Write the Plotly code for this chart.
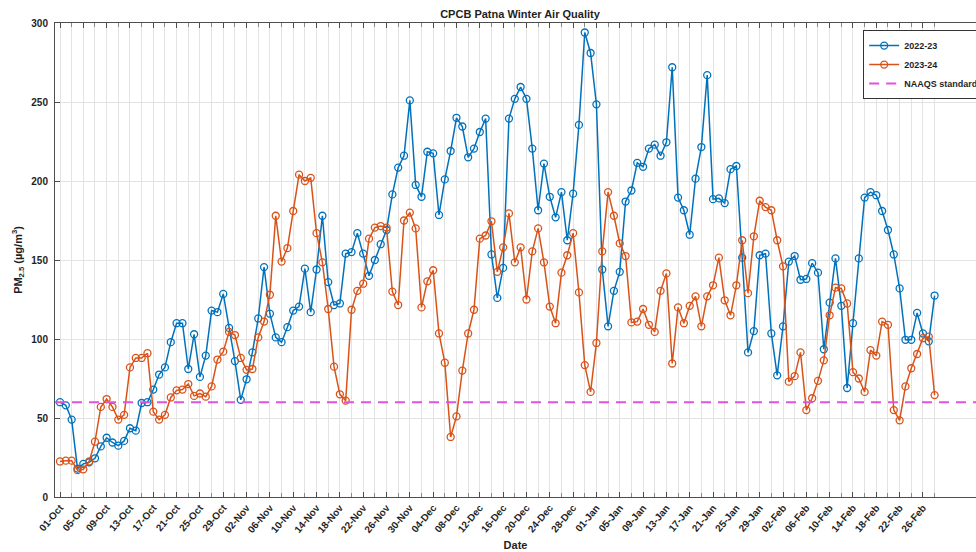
import pandas as pd
import plotly.graph_objects as go

# Daily PM2.5 (µg/m³) at CPCB Patna, 1 Oct – 28 Feb, for two winters
season_start = "2022-10-01"
n_days = 151

pm25_2022_23 = [
    60, 58, 49, 18, 21, 22, 24.5, 32, 37.5, 34.5,
    32.5, 35.5, 43.5, 42, 59.5, 60, 68, 77.5, 82, 98,
    110, 110, 81, 103, 76, 89.5, 118, 117, 128.5, 107,
    86, 61.5, 74.5, 91.5, 113, 145.5, 116, 101, 98, 107.5,
    118, 120.5, 144.5, 117, 144, 178, 136, 121.5, 122.5, 154,
    155, 167, 154, 140, 150, 160, 169, 191.5, 208.5, 216,
    251, 197.5, 190, 218.5, 217.5, 178.5, 201, 219, 240, 234.5,
    215, 220.5, 231, 239.5, 153.5, 126, 145, 239.5, 252, 259.5,
    252, 220.5, 181.5, 211, 190, 177, 193, 162.5, 192, 235.5,
    294, 281, 248.5, 144, 108, 130.5, 142.5, 187, 194, 211.5,
    209, 220.5, 223, 216, 224.5, 272, 189.5, 181.5, 166, 201.5,
    221.5, 267, 188.5, 189, 186, 207.5, 209.5, 151.5, 91.5, 105,
    153, 154, 103.5, 77, 108, 149, 152.5, 137.5, 138, 148,
    142, 93.5, 123, 151, 121, 69, 110, 151, 189.5, 193,
    191, 181, 169, 153.5, 132, 99.5, 99.5, 116.5, 103.5, 98.5,
    127.5,
]

pm25_2023_24 = [
    22.5, 23, 23, 17, 17.5, 22.5, 35, 57, 62, 57,
    49, 52, 82, 88, 88, 91, 54, 49, 52, 63,
    67.5, 68, 71.5, 64, 65.5, 63.5, 70, 87, 92, 104.5,
    102.5, 88, 80.5, 81, 101, 111, 128, 178, 149, 157.5,
    181, 204, 200, 202, 167, 148.5, 119, 82.5, 65, 61,
    118.5, 130.5, 135, 163.5, 170.5, 171.5, 170.5, 130, 121.5, 175,
    180, 170, 120, 136.5, 143.5, 103.5, 85, 38, 51, 80,
    103.5, 118.5, 163.5, 165.5, 174.5, 142.5, 158, 179.5, 148.5, 158,
    125, 155.5, 170, 148.5, 120.5, 110, 142, 153, 167, 129.5,
    83.5, 66.5, 97.5, 155.5, 193, 178, 160.5, 152.5, 110.5, 111,
    119, 109, 104.5, 130.5, 141.5, 84.5, 120, 110, 121, 127,
    108, 127, 134, 151.5, 124.5, 115, 134, 162.5, 129, 165,
    187.5, 183.5, 181.5, 162.5, 146, 73, 76.5, 91.5, 55, 62.5,
    73.5, 86.5, 115, 132.5, 132, 122.5, 79, 75, 66.5, 93,
    89.5, 111, 109, 55, 48.5, 70, 81.5, 90.5, 100.5, 101.5,
    64.5,
]

naaqs_limit = 60
series_names = ["2022-23", "2023-24", "NAAQS standard"]

dates = pd.date_range(season_start, periods=n_days, freq="D")
x_lo = dates[0] - pd.Timedelta(days=0.857)
x_hi = dates[0] + pd.Timedelta(days=157.1)

# labelled ticks every 4 days, extra grid lines every 2 days
label_days = dates[::4]
label_text = [d.strftime("%d-%b") for d in label_days]
grid_days = dates[2::4]

BLUE = "#0072BD"
ORANGE = "#D95319"
MAGENTA = "#DD55DD"
AXIS = "#4D4D4D"
GRID = "#E3E3E3"
FONT = "Liberation Sans, Arial, sans-serif"
TXT = "#1f1f1f"

fig = go.Figure()
for vals, name, col in [(pm25_2022_23, series_names[0], BLUE),
                        (pm25_2023_24, series_names[1], ORANGE)]:
    fig.add_trace(go.Scatter(
        x=dates, y=vals, name=name, mode="lines+markers",
        line=dict(color=col, width=1.5),
        marker=dict(symbol="circle-open", size=7, color=col, line=dict(width=1.3, color=col)),
    ))

fig.add_trace(go.Scatter(
    x=[x_lo, x_hi], y=[naaqs_limit, naaqs_limit], name=series_names[2], mode="lines",
    line=dict(color=MAGENTA, width=2, dash="10px,7px"),
))

fig.update_layout(
    width=976, height=552,
    margin=dict(l=55, r=0, t=23, b=55, autoexpand=False),
    paper_bgcolor="white", plot_bgcolor="white",
    font=dict(family=FONT, size=10, color=TXT),
    title=dict(text="<b>CPCB Patna Winter Air Quality</b>", x=520 / 976, xanchor="center",
               y=1 - 14 / 552, yanchor="middle", font=dict(size=11, color=TXT)),
    showlegend=True,
    legend=dict(x=0.8775, xanchor="left", y=0.985, yanchor="top",
                bgcolor="white", bordercolor="#333333", borderwidth=1,
                font=dict(size=9, color=TXT, weight="bold"), tracegroupgap=0,
                itemwidth=30),
)

fig.update_xaxes(
    range=[x_lo, x_hi],
    tickvals=label_days, ticktext=label_text, tickangle=-50,
    tickfont=dict(size=10, color=TXT, weight="bold"),
    ticks="inside", ticklen=5, tickcolor=AXIS,
    showgrid=True, gridcolor=GRID, gridwidth=1,
    minor=dict(tickvals=grid_days, ticks="inside", ticklen=4, tickcolor="#8a8a8a",
               showgrid=True, gridcolor=GRID, gridwidth=1),
    showline=True, linecolor=AXIS, linewidth=1, mirror="ticks",
    zeroline=False,
    title=dict(text="<b>Date</b>", font=dict(size=11, color=TXT), standoff=7),
)

fig.update_yaxes(
    range=[0, 300], tickvals=[0, 50, 100, 150, 200, 250, 300],
    tickfont=dict(size=10, color=TXT, weight="bold"),
    ticks="inside", ticklen=5, tickcolor=AXIS, ticklabelstandoff=4,
    showgrid=True, gridcolor=GRID, gridwidth=1,
    showline=True, linecolor=AXIS, linewidth=1, mirror=False,
    zeroline=False,
    title=dict(text="<b>PM<sub>2.5</sub> (µg/m<sup>3</sup>)</b>", font=dict(size=11, color=TXT), standoff=6),
)

fig.write_html("out.html")
